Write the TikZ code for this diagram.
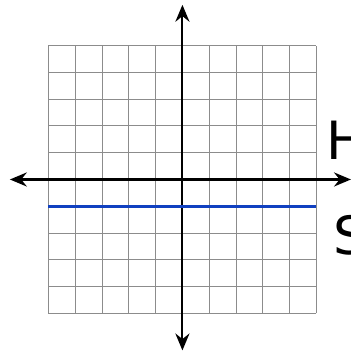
\documentclass[tikz,border=0pt]{standalone}
\usepackage{fontspec}
\setmainfont{DejaVu Sans}
\usepackage{tikz}
\usetikzlibrary{arrows.meta}
\definecolor{gridgray}{HTML}{8C8C8C}
\definecolor{lineblue}{HTML}{1040C0}

\begin{document}
\begin{tikzpicture}[x=1cm, y=1cm,
  axis/.style={line width=2.2pt, {Stealth[length=18pt,width=15pt,inset=6pt]}-{Stealth[length=18pt,width=15pt,inset=6pt]}},
  bigletter/.style={font=\fontsize{56}{60}\selectfont, inner sep=0pt}]
\useasboundingbox (-6.81,-6.44) rectangle (6.29,6.70);
\draw[gridgray, line width=1pt] (-5,-5) grid (5,5);
\coordinate (xl) at (-6.44,0);
\coordinate (xr) at (6.29,0);
\coordinate (yb) at (0,-6.38);
\coordinate (yt) at (0,6.52);
\draw[axis] (xl) -- (xr);
\draw[axis] (yb) -- (yt);
\coordinate (bl) at (-5,-1);
\coordinate (br) at (5,-1);
\draw[lineblue, line width=3pt] (bl) -- (br);
\node[bigletter, anchor=west] (hlab) at (5.38,1.45) {H};
\node[bigletter, anchor=north west] (slab) at (5.62,-1.32) {S};
\end{tikzpicture}
\end{document}
